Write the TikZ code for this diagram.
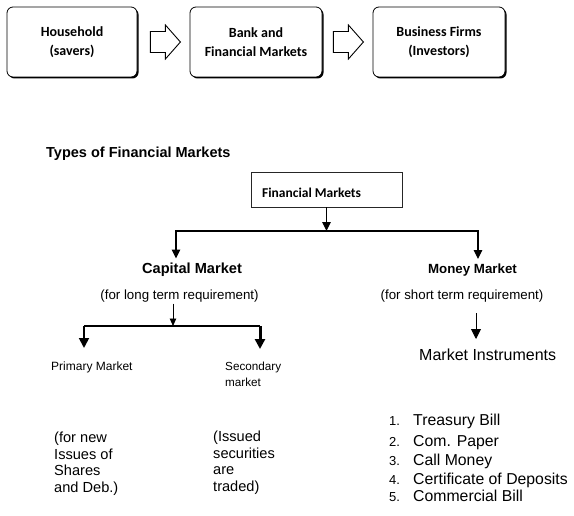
\documentclass[tikz,border=0pt]{standalone}
\usepackage{fontspec}
\setmainfont{Liberation Sans}
\newfontfamily\calfont{Carlito}
\usetikzlibrary{arrows.meta,shadows}
\begin{document}
\begin{tikzpicture}[x=1bp,y=-1bp,
  topbox/.style={draw=black,line width=0.8bp,rounded corners=6bp,fill=white,
    minimum width=130bp,minimum height=70bp,inner sep=0pt,align=center,
    font=\calfont\bfseries\fontsize{14bp}{19bp}\selectfont,
    drop shadow={shadow xshift=1.5bp,shadow yshift=-1.5bp,opacity=1,fill=black}},
  hollow/.style={draw=black,line width=0.9bp,fill=white,line join=miter},
  fmbox/.style={draw=black!85,line width=0.9bp,minimum width=151bp,minimum height=35bp,inner sep=0pt},
  conn/.style={draw=black,line width=1.2bp},
  tip/.style={-{Triangle[length=9bp,width=8.5bp]}},
  smalltip/.style={-{Triangle[length=7.5bp,width=6.5bp]}},
  bigtip/.style={-{Triangle[length=10bp,width=10bp]}},
  txt/.style={inner sep=0pt,anchor=base},
  boldtxt/.style={inner sep=0pt,anchor=base,font=\bfseries\fontsize{14.6bp}{17bp}\selectfont},
  paren/.style={inner sep=0pt,anchor=base,font=\fontsize{13.3bp}{16bp}\selectfont},
  note/.style={inner sep=0pt,anchor=north west,align=left,font=\fontsize{14.6bp}{16.7bp}\selectfont},
  listtxt/.style={inner sep=0pt,anchor=base west,font=\fontsize{15.8bp}{18bp}\selectfont},
  listnum/.style={inner sep=0pt,anchor=base west,font=\fontsize{13bp}{16bp}\selectfont}
]
\useasboundingbox (0,0) rectangle (574,516);

% top flow
\node[topbox] (h) at (72,42) {Household\\(savers)};
\node[topbox,minimum width=132bp] (b) at (256,42) {Bank and\\Financial Markets};
\node[topbox,minimum width=132bp] (f) at (439,42) {Business Firms\\(Investors)};

\draw[hollow] ([shift={(13,-10.5)}]h.east) -- ++(15,0) -- ++(0,-6.5) -- ++(15,17)
  -- ++(-15,17) -- ++(0,-6.5) -- ++(-15,0) -- cycle;
\draw[hollow] ([shift={(11,-10.5)}]b.east) -- ++(15,0) -- ++(0,-6.5) -- ++(15,17)
  -- ++(-15,17) -- ++(0,-6.5) -- ++(-15,0) -- cycle;

% title
\node[inner sep=0pt,anchor=base west,font=\bfseries\fontsize{14.5bp}{17bp}\selectfont] (tt) at (46,158) {Types of Financial Markets};

% financial markets box
\node[fmbox] (fm) at (326.5,189.5) {};
\node[inner sep=0pt,anchor=base west,font=\calfont\bfseries\fontsize{13.5bp}{16bp}\selectfont] (fmt) at (262,197.3) {Financial Markets};

\coordinate (j1) at (326.5,231);
\coordinate (cmA) at (176,258.5);
\coordinate (mmA) at (478,259);
\draw[conn,tip] (fm.south) -- (j1);
\draw[conn,tip] (j1) -| (cmA);
\draw[conn,tip] (j1) -| (mmA);

\node[boldtxt] (cm) at (192,273) {Capital Market};
\node[boldtxt,font=\bfseries\fontsize{13.3bp}{16bp}\selectfont] (mm) at (472.5,273) {Money Market};
\node[paren] (lt) at (179.5,299) {(for long term requirement)};
\node[paren] (st) at (462,299) {(for short term requirement)};

% capital market branches
\coordinate (lA) at (173,303.5);
\coordinate (lB) at (173,326);
\coordinate (lL) at (84,326);
\coordinate (lR) at (260,326);
\coordinate (pA) at (84,348);
\coordinate (sA) at (260,349);
\draw[line width=0.9bp,smalltip] (lA) -- (lB);
\draw[line width=1.8bp] (lL) -- (lR);
\draw[line width=1.8bp,bigtip] (lL) -- (pA);
\draw[line width=3bp,bigtip] (lR) -- (sA);

% money market branch
\coordinate (mA) at (476,313);
\coordinate (mB) at (476,339);
\draw[line width=0.9bp,bigtip] (mA) -- (mB);

\node[inner sep=0pt,anchor=base west,font=\fontsize{12bp}{16bp}\selectfont] (pm) at (51,370) {Primary Market};
\node[inner sep=0pt,anchor=north west,align=left,font=\fontsize{11.7bp}{16bp}\selectfont] (sm) at (225,361.5) {Secondary\\market};
\node[inner sep=0pt,anchor=base west,font=\fontsize{16bp}{18bp}\selectfont] (mi) at (419,360.7) {Market Instruments};

\node[note] (n1) at (54,431.8) {(for new\\Issues of\\Shares\\and Deb.)};
\node[note] (n2) at (213,430.8) {(Issued\\securities\\are\\traded)};

\foreach \n/\t/\y in {1/Treasury Bill/425.7,2/Com. Paper/446.7,3/Call Money/465.7,4/Certificate of Deposits/484,5/Commercial Bill/501.7}{
  \node[listnum] (ln\n) at (389,\y) {\n.};
  \node[listtxt] (li\n) at (413,\y) {\t};
}
\end{tikzpicture}
\end{document}
